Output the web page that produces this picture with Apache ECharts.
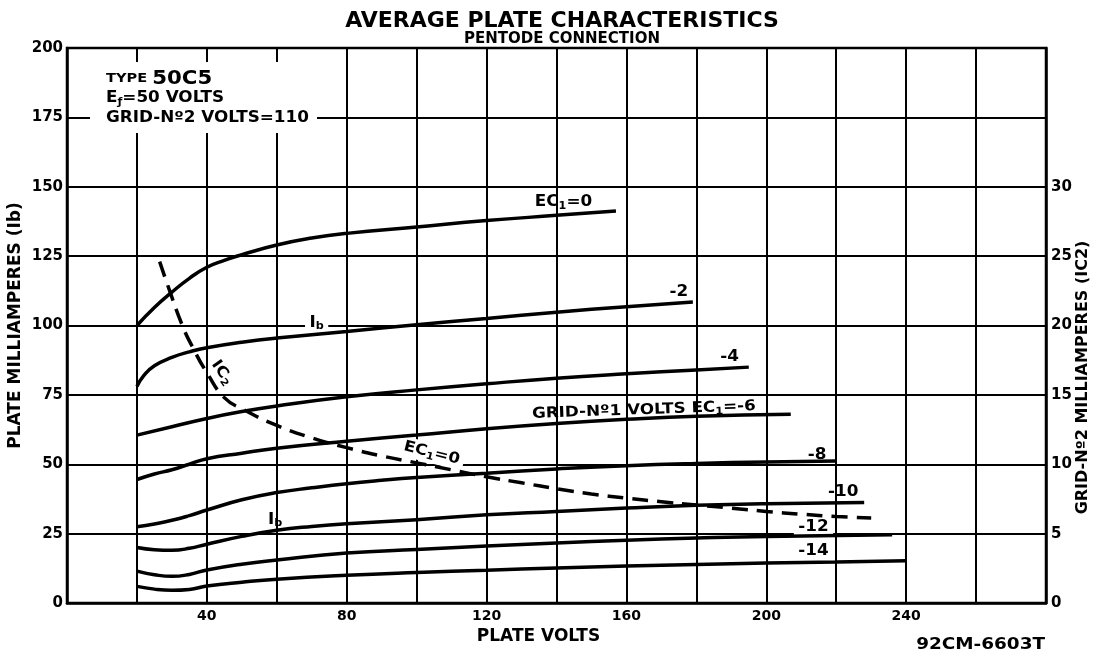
<!DOCTYPE html>
<html>
<head>
<meta charset="utf-8"/>
<script src="https://cdn.jsdelivr.net/npm/echarts@6/dist/echarts.min.js"></script>
</head>
<body style="margin:0;background:#fff">
<div id="chart" style="width:1098px;height:654px"></div>
<script>
// tick labels
var xTickLabels = [40, 80, 120, 160, 200, 240];
var ibTickLabels = [0, 25, 50, 75, 100, 125, 150, 175, 200];
var ic2TickLabels = [0, 5, 10, 15, 20, 25, 30];

// plate current Ib (mA) vs plate volts, one array per grid-No.1 voltage
var ec0 = [[20,100],[25,106.5],[30,112],[35,117],[40,121],[45,123.5],[50,125.5],[60,129],[70,131.5],[80,133.2],[100,135.5],[120,137.8],[140,139.7],[157,141.3]];
var ecm2 = [[20,78],[22,82],[25,85.5],[30,88.5],[35,90.5],[40,92],[50,94],[60,95.5],[80,97.8],[100,100.3],[120,102.5],[140,104.8],[160,106.8],[179,108.5]];
var ecm4 = [[20,60.5],[30,63.5],[40,66.5],[50,69],[60,71],[80,74.3],[100,76.8],[120,79],[140,81],[160,82.6],[180,84],[195,85]];
var ecm6 = [[20,44.5],[25,46.5],[30,48],[35,50],[40,52],[50,54],[60,55.8],[80,58.3],[100,60.5],[120,62.8],[140,64.7],[160,66.2],[180,67.3],[207,68]];
var ecm8 = [[20,27.5],[25,28.5],[30,29.8],[35,31.5],[40,33.5],[50,37.2],[60,39.8],[70,41.5],[80,43],[90,44.2],[100,45.2],[120,46.8],[140,48.3],[160,49.5],[180,50.3],[200,50.8],[220,51.2]];
var ecm10 = [[20,20],[25,19.2],[30,19],[35,19.7],[40,21.2],[50,24],[60,26.2],[70,27.6],[80,28.6],[100,30],[120,31.8],[140,33],[160,34.2],[180,35.2],[200,35.8],[228,36.2]];
var ecm12 = [[20,11.5],[25,10.2],[30,9.6],[35,10.3],[40,11.9],[50,14],[60,15.5],[80,18],[100,19.3],[120,20.5],[140,21.6],[160,22.6],[180,23.4],[200,24],[236,24.6]];
var ecm14 = [[20,6],[25,5],[30,4.6],[35,4.9],[40,6.1],[50,7.5],[60,8.6],[80,10],[100,11],[120,11.8],[140,12.6],[160,13.3],[180,13.9],[200,14.4],[220,14.8],[240,15.2]];

// screen-grid current Ic2 (mA, right scale) at Ec1 = 0
var ic2 = [[26.5,24.6],[29.5,22.4],[33,20],[36,18.4],[40,16.6],[45,14.8],[50,14],[60,12.8],[70,11.9],[80,11.2],[90,10.6],[100,10.1],[110,9.6],[120,9.1],[130,8.66],[140,8.24],[150,7.86],[160,7.56],[170,7.3],[180,7.06],[190,6.84],[200,6.6],[210,6.4],[220,6.24],[230,6.12]];

var FONT = 'DejaVu Sans';
var chart = echarts.init(document.getElementById('chart'));

function ibLine(name, data){
  return {name:name, type:'line', data:data, yAxisIndex:0, symbol:'none',
    smooth:0.5, z:3,
    lineStyle:{color:'#000', width:3.5}};
}
var bold = {fontFamily:FONT, fontWeight:'bold', color:'#000'};

chart.setOption({
  animation:false,
  backgroundColor:'#fff',
  title:{
    text:'AVERAGE PLATE CHARACTERISTICS',
    subtext:'PENTODE CONNECTION',
    left:557, top:5, textAlign:'center', itemGap:0,
    textStyle:{fontFamily:FONT, fontWeight:'bold', fontSize:22, color:'#000'},
    subtextStyle:{fontFamily:FONT, fontWeight:'bold', fontSize:15, color:'#000'}
  },
  grid:{left:67, right:52, top:48, bottom:51, containLabel:false, outerBoundsMode:'none',
    show:true, borderColor:'#000', borderWidth:2.5, backgroundColor:'#fff'},
  xAxis:{
    type:'value', min:0, max:280, interval:20,
    name:'PLATE VOLTS', nameLocation:'middle', nameGap:25,
    nameTextStyle:Object.assign({fontSize:17, padding:[0,36,0,0]}, bold),
    axisLine:{lineStyle:{color:'#000', width:2.5}},
    axisTick:{show:false},
    axisLabel:Object.assign({fontSize:14, margin:6,
      formatter:function(v){ return xTickLabels.indexOf(v) >= 0 ? String(v) : ''; }}, bold),
    splitLine:{show:true, lineStyle:{color:'#000', width:2}}
  },
  yAxis:[{
    type:'value', min:0, max:200, interval:25, position:'left',
    name:'PLATE MILLIAMPERES (Ib)', nameLocation:'middle', nameGap:43, nameMoveOverlap:false,
    nameTextStyle:Object.assign({fontSize:17}, bold),
    axisLine:{show:true, lineStyle:{color:'#000', width:2.5}},
    axisTick:{show:false},
    axisLabel:Object.assign({fontSize:15, margin:4,
      formatter:function(v){ return ibTickLabels.indexOf(v) >= 0 ? String(v) : ''; }}, bold),
    splitLine:{show:true, lineStyle:{color:'#000', width:2}}
  },{
    type:'value', min:0, max:40, interval:5, position:'right',
    name:'GRID-N\u00ba2 MILLIAMPERES (IC2)', nameLocation:'middle', nameGap:29, nameRotate:90, nameMoveOverlap:false,
    nameTextStyle:Object.assign({fontSize:16, padding:[0,104,0,0]}, bold),
    axisLine:{show:true, lineStyle:{color:'#000', width:2.5}},
    axisTick:{show:false},
    axisLabel:Object.assign({fontSize:15, margin:5,
      formatter:function(v){ return ic2TickLabels.indexOf(v) >= 0 ? String(v) : ''; }}, bold),
    splitLine:{show:false}
  }],
  series:[
    ibLine('Ec1=0', ec0),
    ibLine('Ec1=-2', ecm2),
    ibLine('Ec1=-4', ecm4),
    ibLine('Ec1=-6', ecm6),
    ibLine('Ec1=-8', ecm8),
    ibLine('Ec1=-10', ecm10),
    ibLine('Ec1=-12', ecm12),
    ibLine('Ec1=-14', ecm14),
    {name:'Ic2', type:'line', data:ic2, yAxisIndex:1, symbol:'none', smooth:0.5, z:3,
     lineStyle:{color:'#000', width:3.5, type:[16,9]}}
  ]
});

// annotations placed at data coordinates
var rich = {
  a:{fontFamily:FONT, fontWeight:'bold', fontSize:15, color:'#000', lineHeight:18},
  s:{fontFamily:FONT, fontWeight:'bold', fontSize:10, color:'#000', lineHeight:18, verticalAlign:'bottom', padding:[6,0,0,0]},
  b:{fontFamily:FONT, fontWeight:'bold', fontSize:19, color:'#000', lineHeight:20},
  t:{fontFamily:FONT, fontWeight:'bold', fontSize:13, color:'#000', lineHeight:20}
};
function note(v, ma, text, deg, bg){
  var p = chart.convertToPixel({xAxisIndex:0, yAxisIndex:0}, [v, ma]);
  return {type:'text', x:p[0], y:p[1], rotation:(deg||0)*Math.PI/180, scaleX:1.12, z:1,
    style:{text:text, rich:rich, align:'center', verticalAlign:'middle',
      backgroundColor:bg ? '#fff' : 'transparent', padding:bg ? [1,4] : 0}};
}
function boxLine(y, text){
  return {type:'text', x:106, y:y, scaleX:1.12, z:1, style:{text:text, rich:rich, verticalAlign:'middle'}};
}
var graphics = [
  {type:'rect', shape:{x:90, y:62, width:227, height:71}, style:{fill:'#fff'}, z:1},
  boxLine(79, '{t|TYPE }{b|50C5}'),
  boxLine(98, '{a|E}{s|\u0192}{a|=50 VOLTS}'),
  boxLine(118, '{a|GRID-N\u00ba2 VOLTS=110}'),
  {type:'text', x:1045, y:645, z:1, scaleX:1.15, style:{text:'92CM-6603T', fontFamily:FONT, fontWeight:'bold', fontSize:16, fill:'#000', align:'right', verticalAlign:'middle'}},
  note(142, 144.5, '{a|EC}{s|1}{a|=0}'),
  note(175, 112, '{a|-2}'),
  note(189.5, 88.5, '{a|-4}'),
  note(165, 69.5, '{a|GRID-N\u00ba1 VOLTS EC}{s|1}{a|=-6}', 2),
  note(214.5, 53.3, '{a|-8}'),
  note(222, 40, '{a|-10}'),
  note(213.5, 27.4, '{a|-12}', 0, true),
  note(213.5, 18.7, '{a|-14}'),
  note(71.4, 101, '{a|I}{s|b}', 0, true),
  note(59.5, 30, '{a|I}{s|b}'),
  note(44.3, 83, '{a|IC}{s|2}', -55),
  note(104.3, 54, '{a|EC}{s|1}{a|=0}', -14, true)
];
chart.setOption({graphic:graphics});
</script>
</body>
</html>
